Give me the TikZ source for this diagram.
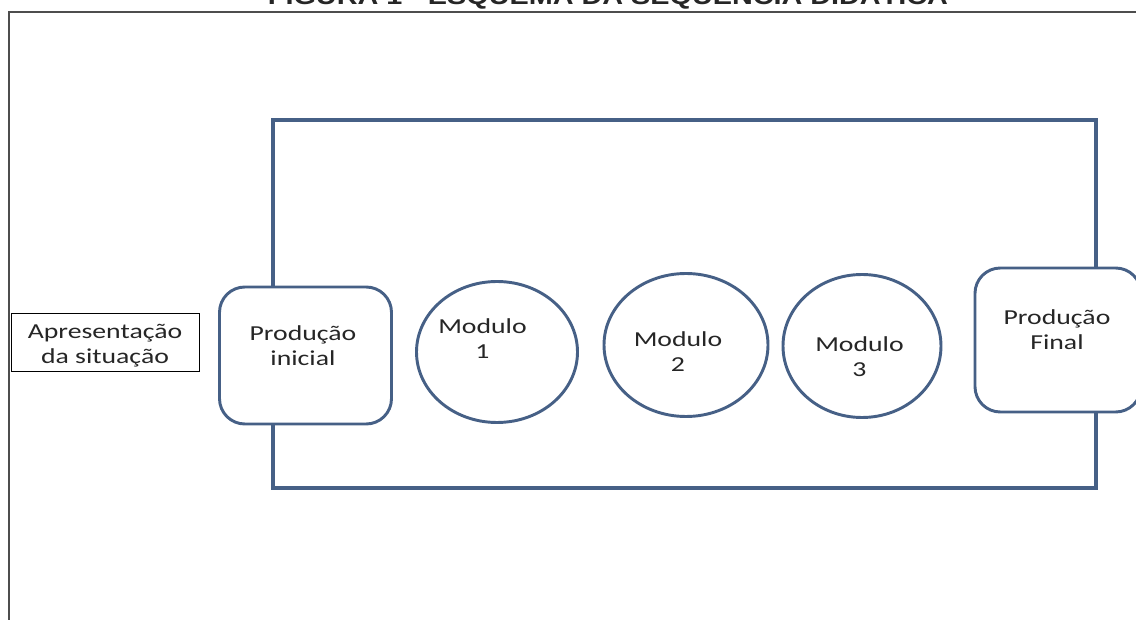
\documentclass[tikz,border=0pt]{standalone}
\usepackage{fontspec}
\setmainfont{Carlito}
\newfontfamily\titlefont{Liberation Sans}
\usetikzlibrary{shapes.geometric}
\definecolor{seqblue}{RGB}{70,96,134}
\definecolor{framegray}{RGB}{77,77,77}
\newcommand{\wide}[1]{\scalebox{1.3}[1]{#1}}

\begin{document}
\begin{tikzpicture}[x=0.75pt, y=-0.75pt,
	every node/.style={font=\fontsize{16}{18.8}\selectfont, text=black!85, align=center, inner sep=0pt},
	stagebox/.style={draw=seqblue, line width=2.2pt, fill=white, rounded corners=19pt},
	module/.style={ellipse, draw=seqblue, line width=2.2pt, fill=white}]
	\useasboundingbox (0,0) rectangle (1136,620);
	\node[anchor=base, font=\titlefont\bfseries\fontsize{18}{20}\selectfont] (title) at (608,4.5) {\scalebox{1.2}[1]{FIGURA 1 - ESQUEMA DA SEQUÊNCIA DIDÁTICA}};
	\draw[framegray, line width=1.5pt] (9,640) -- (9,12) -- (1150,12);
	\draw[seqblue, line width=2.3pt] (273,120) rectangle (1096,488);
	\node[draw=black, line width=0.6pt, fill=white, minimum width=188*0.75pt, minimum height=58*0.75pt] (apres) at (105,342) {};
	\node (aprestxt) at (105,346) {\wide{Apresentação}\\\wide{da situação}};
	\node[stagebox, minimum width=172*0.75pt, minimum height=137*0.75pt] (prodini) at (305.5,355.5) {};
	\node (prodinitxt) at (303,346) {\wide{Produção}\\\wide{inicial}};
	\node[module, minimum width=161*0.75pt, minimum height=141*0.75pt] (mod1) at (497,352) {};
	\node (mod1txt) at (482.5,339) {\wide{Modulo}\\\wide{1}};
	\node[module, minimum width=164*0.75pt, minimum height=143*0.75pt] (mod2) at (686,345) {};
	\node (mod2txt) at (678,352) {\wide{Modulo}\\\wide{2}};
	\node[module, minimum width=158*0.75pt, minimum height=143*0.75pt] (mod3) at (862,346) {};
	\node (mod3txt) at (859.5,357) {\wide{Modulo}\\\wide{3}};
	\node[stagebox, minimum width=166*0.75pt, minimum height=144*0.75pt] (prodfin) at (1058,340) {};
	\node (prodfintxt) at (1057,330) {\wide{Produção}\\\wide{Final}};
\end{tikzpicture}
\end{document}
